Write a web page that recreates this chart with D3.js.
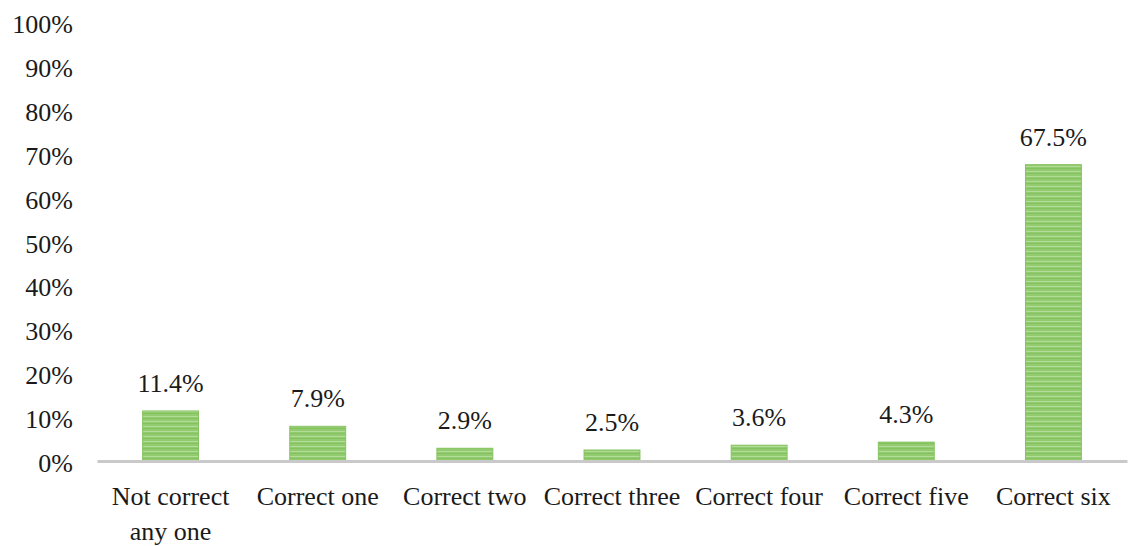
<!DOCTYPE html>
<html>
<head>
<meta charset="utf-8">
<script src="https://cdn.jsdelivr.net/npm/d3@7"></script>
<style>
  body { margin: 0; background: #fff; }
</style>
</head>
<body>
<div class="chart"></div>
<script>
var categories = [["Not correct", "any one"], ["Correct one"], ["Correct two"], ["Correct three"], ["Correct four"], ["Correct five"], ["Correct six"]];
var values = [11.4, 7.9, 2.9, 2.5, 3.6, 4.3, 67.5];
var yTicks = [0, 10, 20, 30, 40, 50, 60, 70, 80, 90, 100];

var w = 1133, h = 546;
var fontSize = 26;
var serif = "'Liberation Serif', 'DejaVu Serif', 'Tinos', 'Times New Roman', serif";

var svg = d3.select(".chart")
            .append("svg")
            .attr("width", w)
            .attr("height", h)
            .style("font-family", serif);

// striped green fill like the original bars
var defs = svg.append("defs");
var pat = defs.append("pattern")
              .attr("id", "stripes")
              .attr("patternUnits", "userSpaceOnUse")
              .attr("width", 10)
              .attr("height", 5);
pat.append("rect").attr("width", 10).attr("height", 5).attr("fill", "#93cb70");
pat.append("rect").attr("y", 1).attr("width", 10).attr("height", 1).attr("fill", "#b3dc98");
pat.append("rect").attr("y", 3).attr("width", 10).attr("height", 1).attr("fill", "#84c25e");

var x = d3.scaleBand()
          .domain(d3.range(categories.length))
          .range([97, 1127])
          .paddingInner(0.62)
          .paddingOuter(0.31);

var y = d3.scaleLinear()
          .domain([0, 100])
          .range([461, 22]);

function label(sel) {
  return sel.style("font-family", serif)
            .attr("font-size", fontSize)
            .attr("fill", "#1a1a1a");
}

// y tick labels (no axis line in the original)
svg.append("g")
   .selectAll("text")
   .data(yTicks)
   .enter()
   .append("text")
   .call(label)
   .attr("x", 73)
   .attr("y", function(d){ return y(d) + 11; })
   .attr("text-anchor", "end")
   .text(function(d){ return d + "%"; });

// bars
svg.append("g")
   .selectAll("rect")
   .data(values)
   .enter()
   .append("rect")
   .attr("x", function(d, i){ return x(i); })
   .attr("y", function(d){ return y(d); })
   .attr("width", x.bandwidth())
   .attr("height", function(d){ return y(0) - y(d); })
   .attr("fill", "url(#stripes)")
   .attr("stroke", "#86c35f")
   .attr("stroke-width", 1);

// x axis baseline
var xAxis = d3.axisBottom(x).tickSize(0).tickFormat("");
var gx = svg.append("g")
            .attr("transform", "translate(0," + y(0) + ")")
            .call(xAxis);
gx.select(".domain")
  .attr("stroke", "#c9c9c9")
  .attr("stroke-width", 3);

// category labels
var catLabels = svg.append("g")
                   .selectAll("text")
                   .data(categories)
                   .enter()
                   .append("text")
                   .call(label)
                   .attr("text-anchor", "middle")
                   .attr("x", function(d, i){ return x(i) + x.bandwidth() / 2; });
catLabels.selectAll("tspan")
         .data(function(d){ return d; })
         .enter()
         .append("tspan")
         .attr("x", function(){ return d3.select(this.parentNode).attr("x"); })
         .attr("y", function(d, j){ return 505 + j * 35; })
         .text(function(d){ return d; });

// value labels
svg.append("g")
   .selectAll("text")
   .data(values)
   .enter()
   .append("text")
   .call(label)
   .attr("text-anchor", "middle")
   .attr("x", function(d, i){ return x(i) + x.bandwidth() / 2; })
   .attr("y", function(d){ return y(d) - 19; })
   .text(function(d){ return d.toFixed(1) + "%"; });
</script>
</body>
</html>
